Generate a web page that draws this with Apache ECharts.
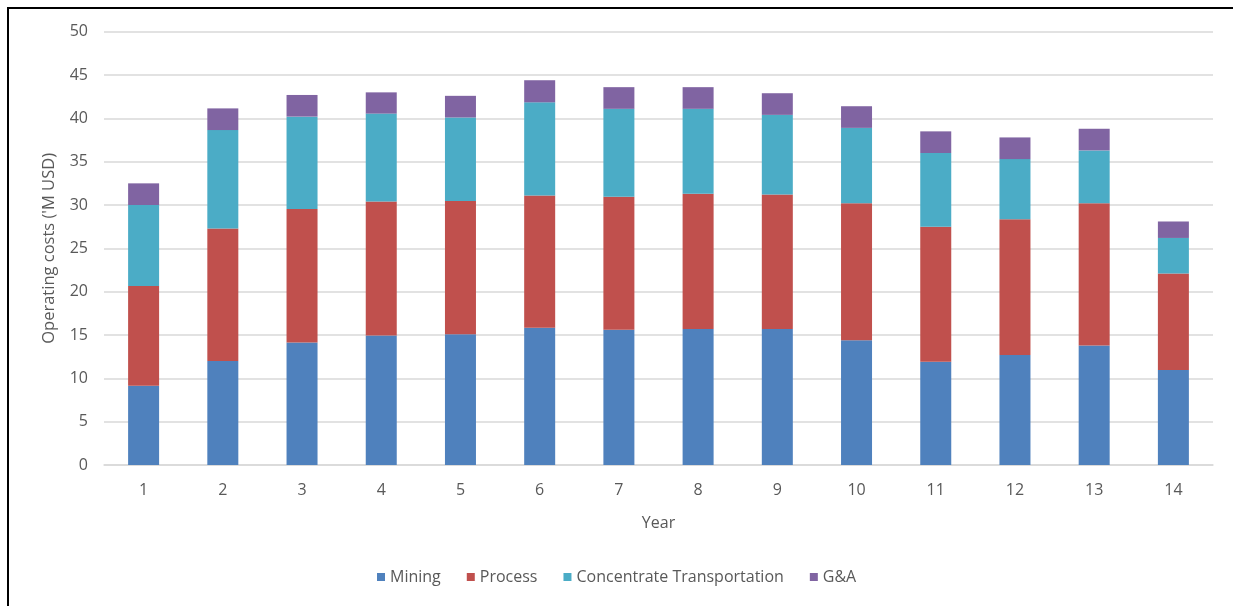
<!DOCTYPE html>
<html>
<head>
<meta charset="utf-8">
<script src="https://cdn.jsdelivr.net/npm/echarts@6/dist/echarts.min.js"></script>
<style>
  html, body { margin: 0; padding: 0; background: #fff; }
  #chart { width: 1233px; height: 606px; }
</style>
</head>
<body>
<div id="chart"></div>
<script>
// years on the x axis
const years = ['1','2','3','4','5','6','7','8','9','10','11','12','13','14']

// cost components, M USD
const mining = [9.15, 12.0, 14.15, 14.95, 15.1, 15.85, 15.6, 15.7, 15.7, 14.4, 11.9, 12.7, 13.8, 10.95]
const processCost = [11.5, 15.3, 15.4, 15.45, 15.35, 15.25, 15.35, 15.6, 15.5, 15.8, 15.6, 15.65, 16.4, 11.15]
const concTransport = [9.35, 11.35, 10.65, 10.15, 9.65, 10.75, 10.15, 9.8, 9.2, 8.7, 8.5, 6.95, 6.1, 4.1]
const gna = [2.5, 2.5, 2.5, 2.45, 2.5, 2.55, 2.5, 2.5, 2.5, 2.5, 2.5, 2.5, 2.5, 1.9]

const textColor = '#595959'
const font = 'Open Sans'

const chart = echarts.init(document.getElementById('chart'))

const mkSeries = (name, data, color) => ({
    name: name,
    type: 'bar',
    stack: 'cost',
    barWidth: 31,
    data: data,
    itemStyle: { color: color },
    emphasis: { disabled: true }
})

const option = {
    animation: false,
    backgroundColor: '#fff',
    textStyle: { fontFamily: font },
    grid: { left: 104, right: 20, top: 31.7, bottom: 141 },
    legend: {
        bottom: 16,
        left: 372,
        itemWidth: 8,
        itemHeight: 8,
        itemGap: 26,
        icon: 'rect',
        textStyle: { color: textColor, fontSize: 16, fontFamily: font },
        data: ['Mining', 'Process', 'Concentrate Transportation', 'G&A']
    },
    xAxis: {
        type: 'category',
        data: years,
        name: 'Year',
        nameLocation: 'middle',
        nameGap: 50,
        nameTextStyle: { color: textColor, fontSize: 16, fontFamily: font },
        axisLine: { lineStyle: { color: '#D9D9D9', width: 1.5 } },
        axisTick: { show: false },
        axisLabel: { color: textColor, fontSize: 16, margin: 17 }
    },
    yAxis: {
        type: 'value',
        min: 0,
        max: 50,
        interval: 5,
        name: "Operating costs ('M USD)",
        nameLocation: 'middle',
        nameGap: 46,
        nameTextStyle: { color: textColor, fontSize: 16.5, fontFamily: font },
        axisLine: { show: false },
        axisTick: { show: false },
        axisLabel: { color: textColor, fontSize: 16, margin: 16 },
        splitLine: { lineStyle: { color: '#D9D9D9', width: 1.5 } }
    },
    graphic: [
        { type: 'line', shape: { x1: 7, y1: 8, x2: 1233, y2: 8 }, style: { stroke: '#000', lineWidth: 2 } },
        { type: 'line', shape: { x1: 8, y1: 7, x2: 8, y2: 606 }, style: { stroke: '#000', lineWidth: 2 } }
    ],
    series: [
        mkSeries('Mining', mining, '#4F81BD'),
        mkSeries('Process', processCost, '#C0504D'),
        mkSeries('Concentrate Transportation', concTransport, '#4BACC6'),
        mkSeries('G&A', gna, '#8064A2')
    ]
}

chart.setOption(option)
</script>
</body>
</html>
